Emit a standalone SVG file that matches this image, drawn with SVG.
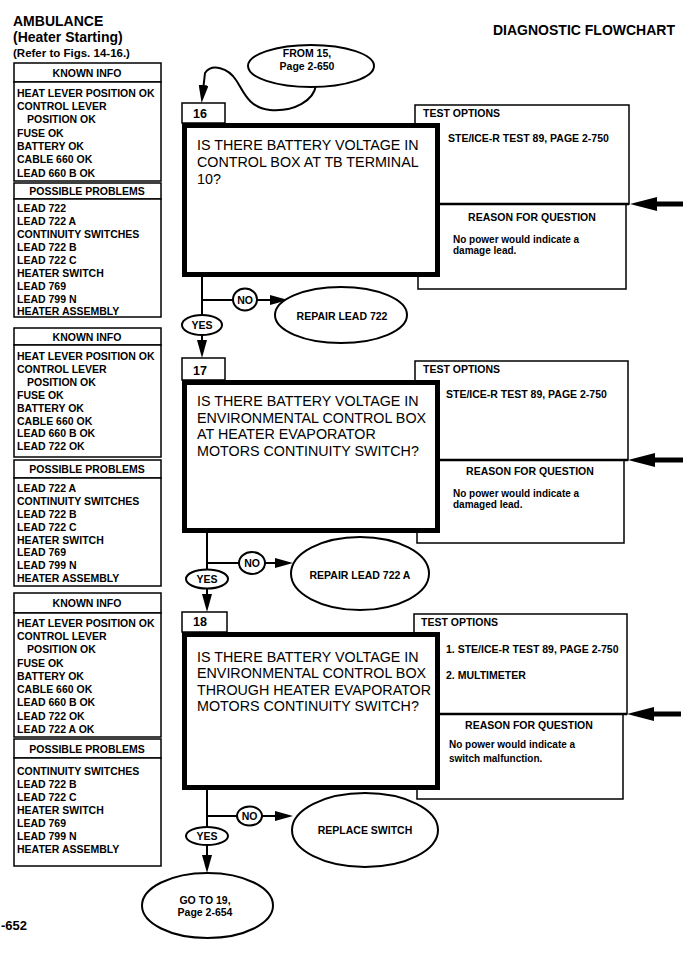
<svg xmlns="http://www.w3.org/2000/svg" width="699" height="953" viewBox="0 0 699 953">
<style>
text{font-family:"Liberation Sans",Arial,Helvetica,sans-serif;fill:#000}
.b{font-weight:bold;font-size:10.5px}
.s{font-weight:bold;font-size:10px}
.q{font-size:14.3px}
.c{text-anchor:middle}
.box{fill:#fff;stroke:#000;stroke-width:1.5}
.thick{fill:#fff;stroke:#000;stroke-width:5}
.ell{fill:#fff;stroke:#000;stroke-width:2}
.ln{fill:none;stroke:#000;stroke-width:2}
.tl{fill:none;stroke:#000;stroke-width:5}
.div{stroke:#000;stroke-width:2.5}
</style>
<defs>
<marker id="ah" markerUnits="userSpaceOnUse" markerWidth="18" markerHeight="10" refX="10" refY="5" orient="auto"><path d="M0,0 L18,5 L0,10 z" fill="#000"/></marker>
<marker id="big" markerUnits="userSpaceOnUse" markerWidth="27" markerHeight="14" refX="7" refY="7" orient="auto"><path d="M0,0 L27,7 L0,14 z" fill="#000"/></marker>
</defs>
<rect width="699" height="953" fill="#fff"/>

<g id="header">
<text x="13" y="26" style="font-weight:bold;font-size:14px">AMBULANCE</text>
<text x="13" y="42" style="font-weight:bold;font-size:14px">(Heater Starting)</text>
<text x="13" y="57" style="font-weight:bold;font-size:11.5px">(Refer to Figs. 14-16.)</text>
<text x="493" y="35" style="font-weight:bold;font-size:14px">DIAGNOSTIC FLOWCHART</text>
<text x="1" y="930" style="font-weight:bold;font-size:13px">-652</text>
</g>

<!-- Left panel 1 -->
<g id="panel16">
<rect class="box" x="14" y="63" width="147" height="19"/>
<text class="b c" x="87" y="77">KNOWN INFO</text>
<rect class="box" x="14" y="82" width="147" height="99"/>
<text class="b" x="17" y="96.5">HEAT LEVER POSITION OK</text>
<text class="b" x="17" y="109.8">CONTROL LEVER</text>
<text class="b" x="27" y="123.2">POSITION OK</text>
<text class="b" x="17" y="136.5">FUSE OK</text>
<text class="b" x="17" y="149.8">BATTERY OK</text>
<text class="b" x="17" y="163.2">CABLE 660 OK</text>
<text class="b" x="17" y="176.5">LEAD 660 B OK</text>
<rect class="box" x="14" y="183" width="147" height="16"/>
<text class="b c" x="87" y="195">POSSIBLE PROBLEMS</text>
<rect class="box" x="14" y="199" width="147" height="118"/>
<text class="b" x="17" y="212">LEAD 722</text>
<text class="b" x="17" y="225">LEAD 722 A</text>
<text class="b" x="17" y="238">CONTINUITY SWITCHES</text>
<text class="b" x="17" y="251">LEAD 722 B</text>
<text class="b" x="17" y="264">LEAD 722 C</text>
<text class="b" x="17" y="277">HEATER SWITCH</text>
<text class="b" x="17" y="289.5">LEAD 769</text>
<text class="b" x="17" y="302.5">LEAD 799 N</text>
<text class="b" x="17" y="315">HEATER ASSEMBLY</text>
</g>

<g id="panel17">
<rect class="box" x="14" y="328" width="147" height="17"/>
<text class="b c" x="87" y="340.5">KNOWN INFO</text>
<rect class="box" x="14" y="345" width="147" height="112"/>
<text class="b" x="17" y="360">HEAT LEVER POSITION OK</text>
<text class="b" x="17" y="373">CONTROL LEVER</text>
<text class="b" x="27" y="386">POSITION OK</text>
<text class="b" x="17" y="398.5">FUSE OK</text>
<text class="b" x="17" y="411.5">BATTERY OK</text>
<text class="b" x="17" y="424.5">CABLE 660 OK</text>
<text class="b" x="17" y="437">LEAD 660 B OK</text>
<text class="b" x="17" y="450">LEAD 722 OK</text>
<rect class="box" x="14" y="460" width="147" height="18"/>
<text class="b c" x="87" y="473">POSSIBLE PROBLEMS</text>
<rect class="box" x="14" y="478" width="147" height="108"/>
<text class="b" x="17" y="492">LEAD 722 A</text>
<text class="b" x="17" y="505">CONTINUITY SWITCHES</text>
<text class="b" x="17" y="518">LEAD 722 B</text>
<text class="b" x="17" y="531">LEAD 722 C</text>
<text class="b" x="17" y="543.5">HEATER SWITCH</text>
<text class="b" x="17" y="556">LEAD 769</text>
<text class="b" x="17" y="569">LEAD 799 N</text>
<text class="b" x="17" y="582">HEATER ASSEMBLY</text>
</g>

<g id="panel18">
<rect class="box" x="14" y="593" width="147" height="20"/>
<text class="b c" x="87" y="607">KNOWN INFO</text>
<rect class="box" x="14" y="613" width="147" height="124"/>
<text class="b" x="17" y="627">HEAT LEVER POSITION OK</text>
<text class="b" x="17" y="640">CONTROL LEVER</text>
<text class="b" x="27" y="653">POSITION OK</text>
<text class="b" x="17" y="666.5">FUSE OK</text>
<text class="b" x="17" y="680">BATTERY OK</text>
<text class="b" x="17" y="693">CABLE 660 OK</text>
<text class="b" x="17" y="706">LEAD 660 B OK</text>
<text class="b" x="17" y="719.5">LEAD 722 OK</text>
<text class="b" x="17" y="733">LEAD 722 A OK</text>
<rect class="box" x="14" y="739" width="147" height="19"/>
<text class="b c" x="87" y="753">POSSIBLE PROBLEMS</text>
<rect class="box" x="14" y="758" width="147" height="108"/>
<text class="b" x="17" y="775">CONTINUITY SWITCHES</text>
<text class="b" x="17" y="788">LEAD 722 B</text>
<text class="b" x="17" y="801">LEAD 722 C</text>
<text class="b" x="17" y="814">HEATER SWITCH</text>
<text class="b" x="17" y="827">LEAD 769</text>
<text class="b" x="17" y="840">LEAD 799 N</text>
<text class="b" x="17" y="853">HEATER ASSEMBLY</text>
</g>

<!-- Connectors -->
<g id="connectors">
<path class="ln" d="M316 85 C314 100 295 112 270 110 C248 108 243 90 236 80 C228 68 212 63 205 73 L202.5 95" marker-end="url(#ah)"/>
<path class="ln" d="M202 277 L202 350" marker-end="url(#ah)"/>
<path class="ln" d="M202 300 L280 300" marker-end="url(#ah)"/>
<path class="ln" d="M207 533 L207 604" marker-end="url(#ah)"/>
<path class="ln" d="M207 563 L285 563" marker-end="url(#ah)"/>
<path class="ln" d="M207 790 L207 865" marker-end="url(#ah)"/>
<path class="ln" d="M207 816 L285 816" marker-end="url(#ah)"/>
<path class="tl" d="M683 204 L650 204" marker-end="url(#big)"/>
<path class="tl" d="M683 460 L648 460" marker-end="url(#big)"/>
<path class="tl" d="M681 714 L647 714" marker-end="url(#big)"/>
</g>

<!-- Step 16 -->
<g id="from15">
<ellipse class="ell" cx="311" cy="66" rx="63" ry="21"/>
<text class="b c" x="307" y="57">FROM 15,</text>
<text class="b c" x="307" y="70">Page 2-650</text>
</g>
<g id="test16">
<rect class="box" x="415" y="105" width="214" height="99"/>
<rect class="box" x="418" y="204" width="208" height="85"/>
<line class="div" x1="418" y1="204" x2="629" y2="204"/>
<text class="b" x="423" y="117">TEST OPTIONS</text>
<text class="b" x="448" y="142">STE/ICE-R TEST 89, PAGE 2-750</text>
<text class="b c" x="532" y="221">REASON FOR QUESTION</text>
<text class="s" x="453" y="243">No power would indicate a</text>
<text class="s" x="453" y="254">damage lead.</text>
</g>
<g id="step16">
<rect class="box" x="182" y="103" width="43" height="20"/>
<text x="193" y="118" style="font-weight:bold;font-size:12.5px">16</text>
<rect class="thick" x="184.5" y="125.5" width="253" height="149"/>
<text class="q" x="197" y="150">IS THERE BATTERY VOLTAGE IN</text>
<text class="q" x="197" y="167">CONTROL BOX AT TB TERMINAL</text>
<text class="q" x="197" y="184">10?</text>
</g>
<g id="no16">
<ellipse class="ell" cx="245" cy="299.5" rx="12" ry="11"/>
<text class="b c" x="245" y="303.5">NO</text>
</g>
<g id="yes16">
<ellipse class="ell" cx="202" cy="325" rx="20" ry="10"/>
<text class="b c" x="202" y="329">YES</text>
</g>
<g id="repair722">
<ellipse class="ell" cx="341" cy="315" rx="66" ry="28"/>
<text class="b c" x="342" y="319.5">REPAIR LEAD 722</text>
</g>

<!-- Step 17 -->
<g id="test17">
<rect class="box" x="415" y="361" width="213" height="99"/>
<rect class="box" x="417" y="460" width="207" height="83"/>
<line class="div" x1="417" y1="460" x2="628" y2="460"/>
<text class="b" x="423" y="373">TEST OPTIONS</text>
<text class="b" x="446" y="398">STE/ICE-R TEST 89, PAGE 2-750</text>
<text class="b c" x="530" y="475">REASON FOR QUESTION</text>
<text class="s" x="453" y="497">No power would indicate a</text>
<text class="s" x="453" y="508">damaged lead.</text>
</g>
<g id="step17">
<rect class="box" x="182" y="358" width="43" height="22"/>
<text x="193" y="375" style="font-weight:bold;font-size:12.5px">17</text>
<rect class="thick" x="184.5" y="382.5" width="253" height="148"/>
<text class="q" x="197" y="406">IS THERE BATTERY VOLTAGE IN</text>
<text class="q" x="197" y="422.7">ENVIRONMENTAL CONTROL BOX</text>
<text class="q" x="197" y="439.4">AT HEATER EVAPORATOR</text>
<text class="q" x="197" y="456">MOTORS CONTINUITY SWITCH?</text>
</g>
<g id="no17">
<ellipse class="ell" cx="252" cy="563" rx="13" ry="11"/>
<text class="b c" x="252" y="567">NO</text>
</g>
<g id="yes17">
<ellipse class="ell" cx="207" cy="579" rx="21" ry="9.5"/>
<text class="b c" x="207" y="583">YES</text>
</g>
<g id="repair722a">
<ellipse class="ell" cx="360" cy="573.5" rx="69" ry="36.5"/>
<text class="b c" x="360" y="579">REPAIR LEAD 722 A</text>
</g>

<!-- Step 18 -->
<g id="test18">
<rect class="box" x="414" y="614" width="213" height="100"/>
<rect class="box" x="417" y="714" width="206" height="85"/>
<line class="div" x1="417" y1="714" x2="627" y2="714"/>
<text class="b" x="421" y="626">TEST OPTIONS</text>
<text class="b" x="446" y="653">1. STE/ICE-R TEST 89, PAGE 2-750</text>
<text class="b" x="446" y="679">2. MULTIMETER</text>
<text class="b c" x="529" y="729">REASON FOR QUESTION</text>
<text class="s" x="449" y="748">No power would indicate a</text>
<text class="s" x="449" y="762">switch malfunction.</text>
</g>
<g id="step18">
<rect class="box" x="182" y="612" width="45" height="20"/>
<text x="193" y="626" style="font-weight:bold;font-size:12.5px">18</text>
<rect class="thick" x="184.5" y="634.5" width="253" height="153"/>
<text class="q" x="197" y="661.5">IS THERE BATTERY VOLTAGE IN</text>
<text class="q" x="197" y="678">ENVIRONMENTAL CONTROL BOX</text>
<text class="q" x="197" y="694.5">THROUGH HEATER EVAPORATOR</text>
<text class="q" x="197" y="711">MOTORS CONTINUITY SWITCH?</text>
</g>
<g id="no18">
<ellipse class="ell" cx="249.5" cy="816" rx="12.5" ry="9.5"/>
<text class="b c" x="249.5" y="820">NO</text>
</g>
<g id="yes18">
<ellipse class="ell" cx="207" cy="836" rx="21" ry="9"/>
<text class="b c" x="207" y="840">YES</text>
</g>
<g id="replaceswitch">
<ellipse class="ell" cx="365" cy="830" rx="73" ry="37"/>
<text class="b c" x="365" y="834">REPLACE SWITCH</text>
</g>
<g id="goto19">
<ellipse class="ell" cx="207.5" cy="905.5" rx="65.5" ry="32.5"/>
<text class="b c" x="205" y="904">GO TO 19,</text>
<text class="b c" x="205" y="916">Page 2-654</text>
</g>
</svg>
